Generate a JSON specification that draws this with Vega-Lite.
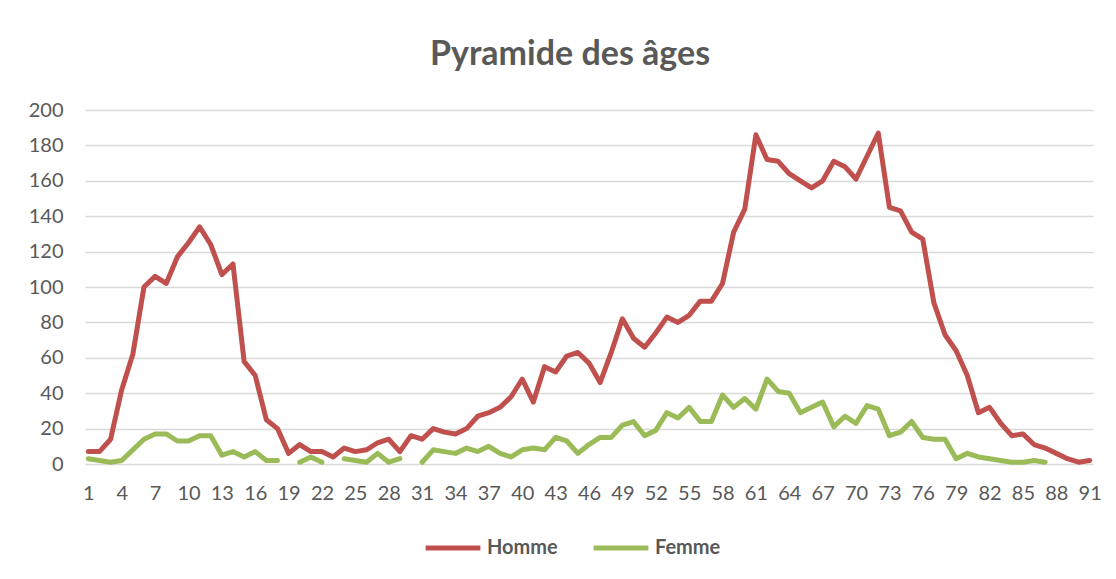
{
  "$schema": "https://vega.github.io/schema/vega-lite/v6.json",
  "width": 1008,
  "height": 354,
  "autosize": {"type": "none"},
  "padding": {"left": 85, "top": 110, "right": 23, "bottom": 115},
  "background": "white",
  "title": {
    "text": "Pyramide des âges",
    "fontSize": 34,
    "font": "Lato",
    "fontWeight": "bold",
    "color": "#595959",
    "offset": 28,
    "dx": -19
  },
  "config": {
    "view": {"stroke": null},
    "font": "Lato"
  },
  "data": {
    "values": [
      {"age":1,"Homme":7,"Femme":3},{"age":2,"Homme":7,"Femme":2},{"age":3,"Homme":14,"Femme":1},
      {"age":4,"Homme":42,"Femme":2},{"age":5,"Homme":62,"Femme":8},{"age":6,"Homme":100,"Femme":14},
      {"age":7,"Homme":106,"Femme":17},{"age":8,"Homme":102,"Femme":17},{"age":9,"Homme":117,"Femme":13},
      {"age":10,"Homme":125,"Femme":13},{"age":11,"Homme":134,"Femme":16},{"age":12,"Homme":124,"Femme":16},
      {"age":13,"Homme":107,"Femme":5},{"age":14,"Homme":113,"Femme":7},{"age":15,"Homme":58,"Femme":4},
      {"age":16,"Homme":50,"Femme":7},{"age":17,"Homme":25,"Femme":2},{"age":18,"Homme":20,"Femme":2},
      {"age":19,"Homme":6,"Femme":null},{"age":20,"Homme":11,"Femme":1},{"age":21,"Homme":7,"Femme":4},
      {"age":22,"Homme":7,"Femme":1},{"age":23,"Homme":4,"Femme":null},{"age":24,"Homme":9,"Femme":3},
      {"age":25,"Homme":7,"Femme":2},{"age":26,"Homme":8,"Femme":1},{"age":27,"Homme":12,"Femme":6},
      {"age":28,"Homme":14,"Femme":1},{"age":29,"Homme":7,"Femme":3},{"age":30,"Homme":16,"Femme":null},
      {"age":31,"Homme":14,"Femme":1},{"age":32,"Homme":20,"Femme":8},{"age":33,"Homme":18,"Femme":7},
      {"age":34,"Homme":17,"Femme":6},{"age":35,"Homme":20,"Femme":9},{"age":36,"Homme":27,"Femme":7},
      {"age":37,"Homme":29,"Femme":10},{"age":38,"Homme":32,"Femme":6},{"age":39,"Homme":38,"Femme":4},
      {"age":40,"Homme":48,"Femme":8},{"age":41,"Homme":35,"Femme":9},{"age":42,"Homme":55,"Femme":8},
      {"age":43,"Homme":52,"Femme":15},{"age":44,"Homme":61,"Femme":13},{"age":45,"Homme":63,"Femme":6},
      {"age":46,"Homme":57,"Femme":11},{"age":47,"Homme":46,"Femme":15},{"age":48,"Homme":63,"Femme":15},
      {"age":49,"Homme":82,"Femme":22},{"age":50,"Homme":71,"Femme":24},{"age":51,"Homme":66,"Femme":16},
      {"age":52,"Homme":74,"Femme":19},{"age":53,"Homme":83,"Femme":29},{"age":54,"Homme":80,"Femme":26},
      {"age":55,"Homme":84,"Femme":32},{"age":56,"Homme":92,"Femme":24},{"age":57,"Homme":92,"Femme":24},
      {"age":58,"Homme":102,"Femme":39},{"age":59,"Homme":131,"Femme":32},{"age":60,"Homme":144,"Femme":37},
      {"age":61,"Homme":186,"Femme":31},{"age":62,"Homme":172,"Femme":48},{"age":63,"Homme":171,"Femme":41},
      {"age":64,"Homme":164,"Femme":40},{"age":65,"Homme":160,"Femme":29},{"age":66,"Homme":156,"Femme":32},
      {"age":67,"Homme":160,"Femme":35},{"age":68,"Homme":171,"Femme":21},{"age":69,"Homme":168,"Femme":27},
      {"age":70,"Homme":161,"Femme":23},{"age":71,"Homme":174,"Femme":33},{"age":72,"Homme":187,"Femme":31},
      {"age":73,"Homme":145,"Femme":16},{"age":74,"Homme":143,"Femme":18},{"age":75,"Homme":131,"Femme":24},
      {"age":76,"Homme":127,"Femme":15},{"age":77,"Homme":91,"Femme":14},{"age":78,"Homme":73,"Femme":14},
      {"age":79,"Homme":64,"Femme":3},{"age":80,"Homme":50,"Femme":6},{"age":81,"Homme":29,"Femme":4},
      {"age":82,"Homme":32,"Femme":3},{"age":83,"Homme":23,"Femme":2},{"age":84,"Homme":16,"Femme":1},
      {"age":85,"Homme":17,"Femme":1},{"age":86,"Homme":11,"Femme":2},{"age":87,"Homme":9,"Femme":1},
      {"age":88,"Homme":6,"Femme":null},{"age":89,"Homme":3,"Femme":null},{"age":90,"Homme":1,"Femme":null},
      {"age":91,"Homme":2,"Femme":null}
    ]
  },
  "transform": [
    {"fold": ["Homme", "Femme"], "as": ["sexe", "n"]}
  ],
  "mark": {
    "type": "line",
    "strokeWidth": 5,
    "strokeJoin": "round",
    "strokeCap": "round",
    "invalid": "break-paths-show-domains"
  },
  "encoding": {
    "x": {
      "field": "age",
      "type": "ordinal",
      "sort": "ascending",
      "scale": {"type": "point", "padding": 0.3},
      "axis": {
        "title": null,
        "values": [1,4,7,10,13,16,19,22,25,28,31,34,37,40,43,46,49,52,55,58,61,64,67,70,73,76,79,82,85,88,91],
        "labelAngle": 0,
        "labelFontSize": 20,
        "labelColor": "#595959",
        "labelPadding": 19,
        "ticks": false,
        "domain": false,
        "grid": false
      }
    },
    "y": {
      "field": "n",
      "type": "quantitative",
      "scale": {"domain": [0, 200], "nice": false},
      "axis": {
        "title": null,
        "values": [0,20,40,60,80,100,120,140,160,180,200],
        "labelFontSize": 20,
        "labelColor": "#595959",
        "labelPadding": 22,
        "ticks": false,
        "domain": false,
        "grid": true,
        "gridColor": "#d9d9d9",
        "gridWidth": 1.5
      }
    },
    "color": {
      "field": "sexe",
      "type": "nominal",
      "sort": ["Homme", "Femme"],
      "scale": {"domain": ["Homme", "Femme"], "range": ["#C0504D", "#9BBB59"]},
      "legend": {
        "title": null,
        "orient": "none",
        "direction": "horizontal",
        "legendX": 338,
        "legendY": 408,
        "symbolType": "stroke",
        "symbolStrokeWidth": 5,
        "symbolSize": 3000,
        "labelFontSize": 20,
        "labelFontWeight": "bold",
        "labelColor": "#595959",
        "labelOffset": 4,
        "columnPadding": 25
      }
    }
  }
}
